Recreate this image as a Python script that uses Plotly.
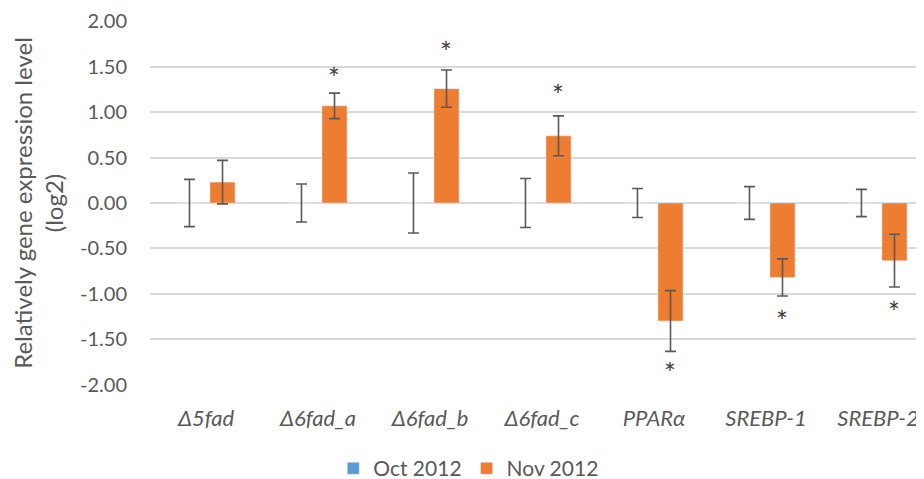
import plotly.graph_objects as go

genes = ["Δ5fad", "Δ6fad_a", "Δ6fad_b", "Δ6fad_c", "PPARα", "SREBP-1", "SREBP-2"]
oct_vals = [0, 0, 0, 0, 0, 0, 0]
oct_err = [0.26, 0.21, 0.33, 0.27, 0.16, 0.18, 0.15]
nov_vals = [0.23, 1.07, 1.26, 0.74, -1.30, -0.82, -0.635]
nov_err = [0.24, 0.14, 0.205, 0.22, 0.335, 0.205, 0.29]
star_y = [None, 1.40, 1.69, 1.21, -1.85, -1.28, -1.18]
y_ticks = [2.0, 1.5, 1.0, 0.5, 0.0, -0.5, -1.0, -1.5, -2.0]
y_tick_text = ["2.00", "1.50", "1.00", "0.50", "0.00", "-0.50", "-1.00", "-1.50", "-2.00"]

FONT = "Lato"
GRAY = "#595959"

fig = go.Figure()
fig.add_trace(go.Bar(
    name="Oct 2012", x=genes, y=oct_vals, marker_color="#5B9BD5",
    error_y=dict(type="data", array=oct_err, visible=True, color=GRAY, thickness=1.6, width=5.5),
))
fig.add_trace(go.Bar(
    name="Nov 2012", x=genes, y=nov_vals, marker_color="#ED7D31",
    error_y=dict(type="data", array=nov_err, visible=True, color=GRAY, thickness=1.6, width=5.5),
))

for g, s in zip(genes, star_y):
    if s is None:
        continue
    fig.add_annotation(x=g, y=s, xref="x", yref="y", text="*", showarrow=False,
                       xshift=16, yshift=-2, font=dict(family=FONT, size=28, color="#404040"))

fig.update_layout(
    width=916, height=471,
    paper_bgcolor="white", plot_bgcolor="white",
    margin=dict(l=142, r=0, t=10, b=94),
    barmode="group", bargap=0.41, bargroupgap=0.24,
    font=dict(family=FONT, size=20, color=GRAY),
    showlegend=True,
    legend=dict(orientation="h", xref="container", yref="container", x=0.503, xanchor="center",
                y=0.022, yanchor="middle", font=dict(family=FONT, size=21, color=GRAY),
                itemwidth=30),
)
fig.update_yaxes(
    range=[-2.005, 2.005], tickvals=y_ticks, ticktext=y_tick_text,
    showgrid=True, gridcolor="#d9d9d9", gridwidth=1.5,
    zeroline=False, showline=False, ticks="", ticklabelstandoff=22,
    ticklabeloverflow="allow",
    title=dict(text="Relatively gene expression level<br>(log2)", font=dict(family=FONT, size=24, color=GRAY), standoff=12),
    tickfont=dict(family=FONT, size=20, color=GRAY),
)
fig.update_xaxes(
    range=[-0.5, 6.411], showgrid=False, showline=False, ticks="", ticklabelstandoff=18,
    tickfont=dict(family=FONT, size=22, color=GRAY, style="italic"),
)

fig.write_html("out.html")
